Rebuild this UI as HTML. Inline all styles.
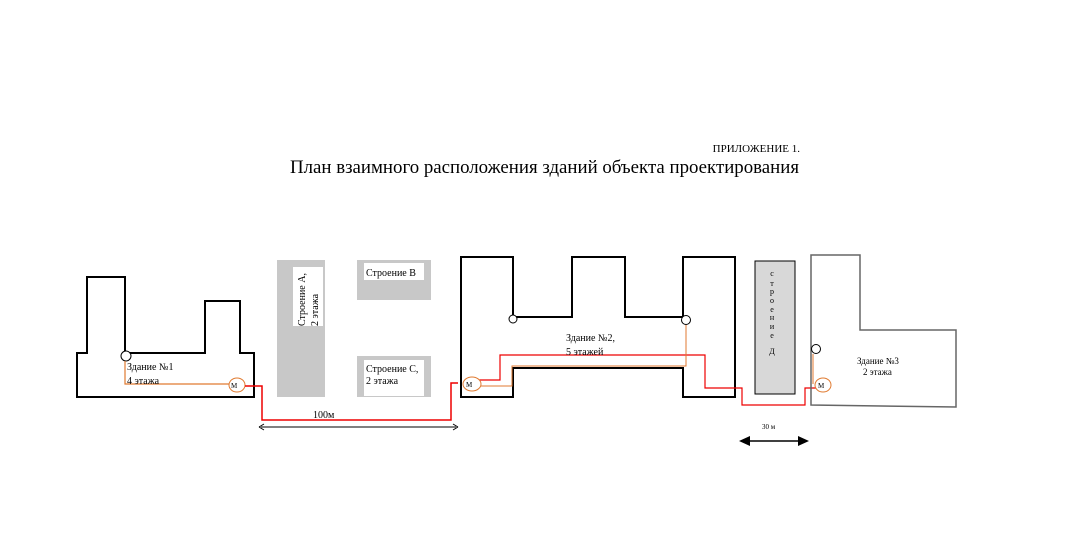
<!DOCTYPE html>
<html><head><meta charset="utf-8"><style>
html,body{margin:0;padding:0;background:#fff;width:1078px;height:552px;overflow:hidden}
svg{display:block}
text{font-family:"Liberation Serif",serif;fill:#000}
</style></head><body>
<svg width="1078" height="552" viewBox="0 0 1078 552" xmlns="http://www.w3.org/2000/svg">
<text x="800" y="152" font-size="11" text-anchor="end">ПРИЛОЖЕНИЕ 1.</text>
<text x="290" y="173" font-size="19" textLength="509" lengthAdjust="spacingAndGlyphs">План взаимного расположения зданий объекта проектирования</text>

<!-- Building 1 -->
<path d="M77,353 H87 V277 H125 V353 H205 V301 H240 V353 H254 V397 H77 Z" fill="none" stroke="#000" stroke-width="2"/>
<circle cx="126" cy="356" r="5" fill="#fff" stroke="#000" stroke-width="1"/>
<polyline points="125,361 125,384 230,384" fill="none" stroke="#e07a30" stroke-width="1.2"/>
<ellipse cx="237" cy="385" rx="8" ry="7" fill="#fff" stroke="#e07a30" stroke-width="1"/>
<text x="231" y="388" font-size="7" font-family="Liberation Sans">M</text>
<text x="127" y="370" font-size="10">Здание №1</text>
<text x="127" y="384" font-size="10">4 этажа</text>

<!-- Red line -->
<polyline points="245,386 262,386 262,420 451,420 451,383 458,383" fill="none" stroke="#e00" stroke-width="1.5"/>
<text x="313" y="418" font-size="10">100м</text>
<line x1="261" y1="427" x2="456" y2="427" stroke="#000" stroke-width="1"/>
<path d="M259,427 l5,-3 M259,427 l5,3 M458,427 l-5,-3 M458,427 l-5,3" stroke="#000" stroke-width="1"/>

<!-- Building A, B, C -->
<rect x="277" y="260" width="48" height="137" fill="#c8c8c8"/>
<rect x="293" y="267" width="30" height="59" fill="#fff"/>
<text transform="translate(305,326) rotate(-90)" font-size="10">Строение А,</text>
<text transform="translate(318,326) rotate(-90)" font-size="10">2 этажа</text>
<rect x="357" y="260" width="74" height="40" fill="#c8c8c8"/>
<rect x="364" y="263" width="60" height="17" fill="#fff"/>
<text x="366" y="276" font-size="10">Строение В</text>
<rect x="357" y="356" width="74" height="41" fill="#c8c8c8"/>
<rect x="364" y="360" width="60" height="36" fill="#fff"/>
<text x="366" y="372" font-size="10">Строение С,</text>
<text x="366" y="384" font-size="10">2 этажа</text>

<!-- Building 2 -->
<path d="M461,257 H513 V317 H572 V257 H625 V317 H683 V257 H735 V397 H683 V368 H513 V397 H461 Z" fill="none" stroke="#000" stroke-width="2"/>
<circle cx="513" cy="319" r="4" fill="#fff" stroke="#000" stroke-width="1"/>
<circle cx="686" cy="320" r="4.5" fill="#fff" stroke="#000" stroke-width="1"/>
<polyline points="478,380 500,380 500,355 705,355 705,388 742,388 742,405 805,405 805,388 816,388" fill="none" stroke="#e00" stroke-width="1.2"/>
<polyline points="481,386 512,386 512,366 686,366 686,325" fill="none" stroke="#e07a30" stroke-width="1"/>
<ellipse cx="472" cy="384" rx="9" ry="7" fill="#fff" stroke="#e07a30" stroke-width="1"/>
<text x="466" y="387" font-size="7" font-family="Liberation Sans">M</text>
<text x="566" y="341" font-size="10">Здание №2,</text>
<text x="566" y="355" font-size="10">5 этажей</text>

<!-- Gray building D -->
<rect x="755" y="261" width="40" height="133" fill="#d8d8d8" stroke="#000" stroke-width="1"/>
<g font-size="8" text-anchor="middle" font-family="Liberation Sans">
<text x="772" y="276">с</text>
<text x="772" y="286" fill="#33c">т</text>
<text x="772" y="294" fill="#33c">р</text>
<text x="772" y="303" fill="#33c">о</text>
<text x="772" y="312" fill="#33c">е</text>
<text x="772" y="320" fill="#33c">н</text>
<text x="772" y="329" fill="#33c">и</text>
<text x="772" y="338" fill="#33c">е</text>
<text x="772" y="354">Д</text>
</g>

<!-- Building 3 -->
<path d="M811,255 H860 V330 H956 V407 L811,405 Z" fill="none" stroke="#666" stroke-width="1.5"/>
<circle cx="816" cy="349" r="4.5" fill="#fff" stroke="#000" stroke-width="1"/>
<line x1="813" y1="354" x2="813" y2="384" stroke="#e07a30" stroke-width="1"/>
<ellipse cx="823" cy="385" rx="8" ry="7" fill="#fff" stroke="#e07a30" stroke-width="1"/>
<text x="818" y="388" font-size="7" font-family="Liberation Sans">M</text>
<text x="857" y="364" font-size="9">Здание №3</text>
<text x="863" y="375" font-size="9">2 этажа</text>
<text x="762" y="429" font-size="7" fill="#33c">30 м</text>
<line x1="748" y1="441" x2="800" y2="441" stroke="#000" stroke-width="1.5"/>
<path d="M739,441 L750,436 L750,446 Z M809,441 L798,436 L798,446 Z" fill="#000"/>
</svg>
</body></html>
